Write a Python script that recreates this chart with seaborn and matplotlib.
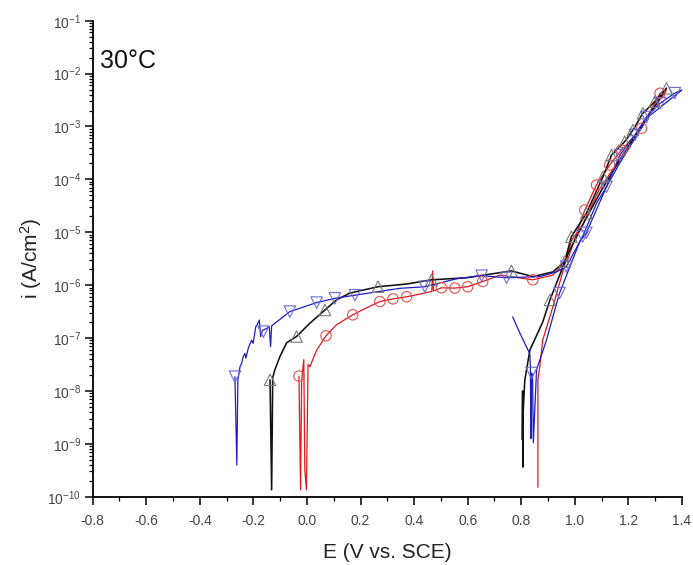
import numpy as np
import pandas as pd
import matplotlib
matplotlib.use("Agg")
import matplotlib.pyplot as plt
import seaborn as sns
from matplotlib.ticker import LogLocator, MultipleLocator, FormatStrFormatter, NullFormatter

# ---------------- data (E in V vs SCE, i in A/cm2) ----------------
# black series (open up-triangles)
black_fwd_E = [-0.138, -0.132, -0.128, -0.120, -0.101, -0.076, -0.039, 0.011, 0.067, 0.110, 0.160,
               0.265, 0.372, 0.465, 0.596, 0.763, 0.843, 0.918, 0.962, 0.987, 1.043, 1.105, 1.137,
               1.186, 1.217, 1.254, 1.298, 1.342]
black_fwd_i = [1.62e-8, 1.35e-10, 1.78e-8, 2.51e-8, 4.47e-8, 8.13e-8, 1.07e-7, 1.91e-7, 3.39e-7, 5.25e-7, 7.08e-7,
               9.33e-7, 1.05e-6, 1.26e-6, 1.38e-6, 1.86e-6, 1.45e-6, 1.78e-6, 2.78e-6, 8.26e-6, 2.29e-5, 1.12e-4, 2.89e-4,
               5.16e-4, 8.59e-4, 1.78e-3, 2.94e-3, 5.27e-3]
black_rev_E = [1.342, 1.300, 1.190, 1.100, 1.030, 0.975, 0.907, 0.880, 0.832, 0.813, 0.806, 0.806, 0.805, 0.803]
black_rev_i = [5.27e-3, 2.51e-3, 3.55e-4, 6.31e-5, 1.41e-5, 3.98e-6, 5.25e-7, 2.0e-7, 5.89e-8, 1.58e-8, 3.16e-9,
               3.63e-10, 1.0e-8, 1.2e-9]
black_mk_E = [-0.138, -0.039, 0.067, 0.265, 0.465, 0.763, 0.962, 0.987, 1.043, 1.105, 1.137, 1.186, 1.217,
              1.254, 1.298, 1.342, 0.907]
black_mk_i = [1.62e-8, 1.07e-7, 3.39e-7, 9.33e-7, 1.26e-6, 1.86e-6, 2.78e-6, 8.26e-6, 2.29e-5, 1.12e-4, 2.89e-4,
              5.16e-4, 8.59e-4, 1.78e-3, 2.94e-3, 5.27e-3, 5.25e-7]

# red series (open circles)
red_fwd_E = [-0.030, -0.024, -0.020, -0.012, -0.008, -0.002, 0.004, 0.011, 0.036, 0.071, 0.110, 0.171, 0.222,
             0.272, 0.321, 0.372, 0.421, 0.466, 0.469, 0.472, 0.502, 0.552, 0.600, 0.656, 0.720, 0.843, 0.918,
             0.973, 1.037, 1.081, 1.130, 1.174, 1.249, 1.280, 1.318, 1.340]
red_fwd_i = [1.91e-8, 1.35e-10, 1.58e-8, 3.89e-8, 3.16e-10, 1.35e-10, 3.16e-8, 2.88e-8, 5.89e-8, 1.10e-7, 1.78e-7,
             2.75e-7, 3.72e-7, 4.90e-7, 5.50e-7, 6.03e-7, 6.76e-7, 7.59e-7, 1.86e-6, 7.76e-7, 8.91e-7, 8.8e-7,
             9.33e-7, 1.17e-6, 1.55e-6, 1.26e-6, 1.55e-6, 3.02e-6, 2.63e-5, 7.83e-5, 1.87e-4, 3.60e-4, 9.25e-4,
             1.88e-3, 4.25e-3, 4.68e-3]
red_rev_E = [1.340, 1.280, 1.190, 1.090, 1.030, 0.988, 0.918, 0.880, 0.869, 0.862, 0.862]
red_rev_i = [4.68e-3, 1.7e-3, 3.55e-4, 6.31e-5, 1.41e-5, 7.08e-6, 3.89e-7, 9.12e-8, 2.82e-8, 1.62e-8, 1.51e-10]
red_mk_E = [-0.030, 0.071, 0.171, 0.272, 0.321, 0.372, 0.502, 0.552, 0.600, 0.656, 0.843, 1.037, 1.081,
            1.130, 1.174, 1.249, 1.318]
red_mk_i = [1.91e-8, 1.10e-7, 2.75e-7, 4.90e-7, 5.50e-7, 6.03e-7, 8.91e-7, 8.8e-7, 9.33e-7, 1.17e-6, 1.26e-6,
            2.63e-5, 7.83e-5, 1.87e-4, 3.60e-4, 9.25e-4, 4.25e-3]

# blue series (open down-triangles)
blue_fwd_E = [-0.269, -0.262, -0.258, -0.250, -0.244, -0.238, -0.232, -0.228, -0.219, -0.207, -0.201, -0.191,
              -0.186, -0.178, -0.173, -0.166, -0.151, -0.141, -0.136, -0.132, -0.064, 0.036, 0.104, 0.179,
              0.347, 0.440, 0.558, 0.652, 0.745, 0.869, 0.931, 0.968, 1.029, 1.081, 1.118, 1.168, 1.224, 1.267,
              1.318, 1.373, 1.400]
blue_fwd_i = [1.86e-8, 3.98e-10, 1.62e-8, 2.88e-8, 3.31e-8, 4.47e-8, 5.13e-8, 4.17e-8, 6.46e-8, 9.12e-8, 7.94e-8,
              1.66e-7, 1.78e-7, 2.19e-7, 1.07e-7, 1.41e-7, 1.51e-7, 1.66e-7, 6.92e-8, 1.70e-7, 3.16e-7, 4.68e-7,
              5.62e-7, 6.46e-7, 8.71e-7, 9.33e-7, 1.32e-6, 1.51e-6, 1.38e-6, 1.45e-6, 1.78e-6, 2.24e-6, 8.32e-6,
              3.55e-5, 7.24e-5, 2.88e-4, 6.92e-4, 1.51e-3, 2.75e-3, 4.27e-3, 4.90e-3]
blue_rev_E = [1.400, 1.273, 1.168, 1.118, 1.043, 1.018, 0.943, 0.925, 0.894, 0.857, 0.845, 0.842, 0.838, 0.836,
              0.834, 0.832, 0.795, 0.768]
blue_rev_i = [4.90e-3, 1.51e-3, 2.04e-4, 7.24e-5, 9.77e-6, 6.61e-6, 7.08e-7, 3.39e-7, 9.12e-8, 2.51e-8, 1.05e-9,
              2.0e-8, 2.19e-8, 1.26e-9, 2.82e-8, 5.01e-8, 1.23e-7, 2.51e-7]
blue_mk_E = [-0.269, -0.163, -0.064, 0.036, 0.104, 0.179, 0.440, 0.652, 0.745, 0.968, 1.029, 1.118, 1.168,
             1.224, 1.267, 1.318, 1.373, 0.943, 0.838, 1.043]
blue_mk_i = [1.86e-8, 1.32e-7, 3.16e-7, 4.68e-7, 5.62e-7, 6.46e-7, 9.33e-7, 1.51e-6, 1.38e-6, 2.24e-6, 8.32e-6,
             7.24e-5, 2.88e-4, 6.92e-4, 1.51e-3, 2.75e-3, 4.27e-3, 7.08e-7, 2.19e-8, 9.77e-6]

x_ticks = [-0.8, -0.6, -0.4, -0.2, 0.0, 0.2, 0.4, 0.6, 0.8, 1.0, 1.2, 1.4]
panel_label = "30°C"

# ---------------- styling ----------------
line_colors = {"black": "#111111", "red": "#e3161b", "blue": "#1c1cc8"}
line_widths = {"black": 1.15, "red": 0.9, "blue": 0.9}
mk_colors = {"black": "#7a7a7a", "red": "#e05050", "blue": "#6a6ad8"}
mk_shapes = {"black": "^", "red": "o", "blue": "v"}
mk_sizes = {"black": 68, "red": 56, "blue": 68}

sns.set_theme(style="white")
plt.rcParams["font.family"] = ["Liberation Sans", "DejaVu Sans"]
plt.rcParams["mathtext.fontset"] = "custom"
plt.rcParams["mathtext.rm"] = "Liberation Sans"
plt.rcParams["mathtext.it"] = "Liberation Sans:italic"
plt.rcParams["mathtext.bf"] = "Liberation Sans:bold"

W, H = 693, 565
fig = plt.figure(figsize=(W / 100, H / 100), dpi=100)
L, R, T, B = 92.7, 682.0, 20.7, 496.7
ax = fig.add_axes([L / W, 1 - B / H, (R - L) / W, (B - T) / H])
ax.set_yscale("log")

rows = []
segs = {
    "red": [(red_fwd_E, red_fwd_i), (red_rev_E, red_rev_i)],
    "black": [(black_fwd_E, black_fwd_i), (black_rev_E, black_rev_i)],
    "blue": [(blue_fwd_E, blue_fwd_i), (blue_rev_E, blue_rev_i)],
}
for name, lst in segs.items():
    for k, (es, cs) in enumerate(lst):
        for j, (e, c) in enumerate(zip(es, cs)):
            rows.append({"E": e, "i": c, "series": name, "seg": f"{name}{k}", "ord": j})
df = pd.DataFrame(rows)

for name in ["red", "black", "blue"]:
    sub = df[df.series == name]
    sns.lineplot(data=sub, x="E", y="i", units="seg", estimator=None, sort=False,
                 color=line_colors[name], linewidth=line_widths[name], ax=ax, legend=False)

mk = {"red": (red_mk_E, red_mk_i), "black": (black_mk_E, black_mk_i), "blue": (blue_mk_E, blue_mk_i)}
for name in ["red", "black", "blue"]:
    es, cs = mk[name]
    sns.scatterplot(x=es, y=cs, marker=mk_shapes[name], s=mk_sizes[name], ax=ax, color=mk_colors[name],
                    linewidth=0.8, zorder=3, legend=False)
    coll = ax.collections[-1]
    coll.set_facecolor("none")
    coll.set_edgecolor(mk_colors[name])

ax.set_xlim(-0.8, 1.4)
ax.set_ylim(1e-10, 1e-1)
ax.set_xticks(x_ticks)
ax.xaxis.set_major_formatter(FormatStrFormatter("%.1f"))
ax.xaxis.set_minor_locator(MultipleLocator(0.1))
ax.yaxis.set_major_locator(LogLocator(base=10, numticks=20))
ax.yaxis.set_minor_locator(LogLocator(base=10, subs=np.arange(2, 10), numticks=200))
ax.yaxis.set_minor_formatter(NullFormatter())

for s in ["top", "right"]:
    ax.spines[s].set_visible(False)
for s in ["left", "bottom"]:
    ax.spines[s].set_color("black")
    ax.spines[s].set_linewidth(1.3)

ax.tick_params(which="major", direction="out", length=5.5, width=1.1, color="black",
               labelsize=10, labelcolor="#444444", left=True, bottom=True)
ax.tick_params(which="minor", direction="out", length=3, width=0.9, color="black", left=True, bottom=True)
ax.tick_params(axis="x", which="major", pad=7)
ax.tick_params(axis="y", which="major", pad=3)

ax.set_xlabel("E (V vs. SCE)", fontsize=15, color="#222222", labelpad=11)
ax.set_ylabel("i (A/cm$^2$)", fontsize=15, color="#222222", labelpad=2)
ax.text(0.012, 0.915, panel_label, transform=ax.transAxes, fontsize=18, ha="left", va="center",
        color="#111111")
ax.grid(False)

fig.savefig("out.png", dpi=100)
